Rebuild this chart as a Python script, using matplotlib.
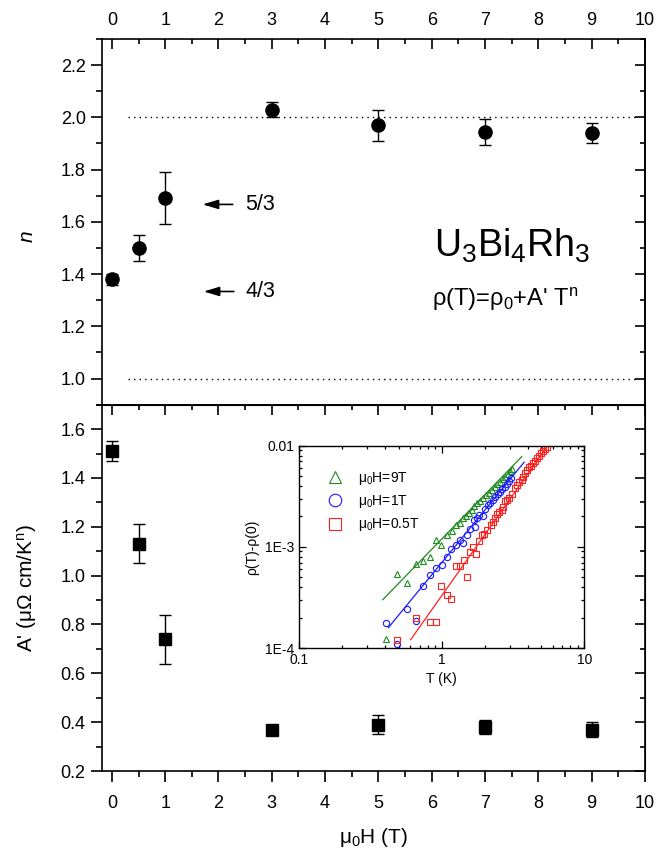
import matplotlib
matplotlib.use('Agg')
import matplotlib.pyplot as plt
from matplotlib.ticker import MultipleLocator, LogLocator, NullFormatter

plt.rcParams['font.family'] = ['Liberation Sans', 'DejaVu Sans']
plt.rcParams['mathtext.default'] = 'regular'

# main panels
field = [0, 0.5, 1, 3, 5, 7, 9]
n_exp = [1.38, 1.50, 1.69, 2.03, 1.97, 1.945, 1.94]
n_err = [0.02, 0.05, 0.10, 0.03, 0.06, 0.05, 0.04]
A_coef = [1.51, 1.13, 0.74, 0.37, 0.39, 0.38, 0.37]
A_err = [0.04, 0.08, 0.10, 0.01, 0.04, 0.03, 0.03]

# inset: rho(T)-rho(0) vs T
T_9T = [0.404, 0.488, 0.570, 0.656, 0.738, 0.822, 0.906, 0.986, 1.08, 1.17, 1.26, 1.34, 1.42, 1.48, 1.55,
        1.62, 1.69, 1.77, 1.85, 1.95, 2.04, 2.14, 2.25, 2.35, 2.45, 2.56, 2.67, 2.79, 2.90, 3.01, 3.10]
R_9T = [1.22e-4, 5.37e-4, 4.44e-4, 6.79e-4, 7.17e-4, 7.91e-4, 1.16e-3, 1.04e-3, 1.32e-3, 1.43e-3, 1.64e-3,
        1.73e-3, 1.91e-3, 2.02e-3, 2.18e-3, 2.34e-3, 2.53e-3, 2.69e-3, 2.85e-3, 3.05e-3, 3.23e-3, 3.43e-3,
        3.64e-3, 3.90e-3, 4.15e-3, 4.37e-3, 4.65e-3, 4.93e-3, 5.25e-3, 5.57e-3, 5.83e-3]
T_1T = [0.404, 0.488, 0.573, 0.659, 0.741, 0.826, 0.910, 0.998, 1.08, 1.16, 1.26, 1.34, 1.42, 1.50, 1.59,
        1.68, 1.71, 1.76, 1.83, 1.94, 2.01, 2.10, 2.18, 2.28, 2.36, 2.47, 2.56, 2.66, 2.76, 2.87, 2.98, 3.05]
R_1T = [1.75e-4, 1.09e-4, 2.43e-4, 1.84e-4, 4.11e-4, 5.28e-4, 6.25e-4, 6.64e-4, 7.91e-4, 9.49e-4, 1.05e-3,
        1.16e-3, 1.10e-3, 1.30e-3, 1.50e-3, 1.84e-3, 1.58e-3, 1.95e-3, 2.07e-3, 2.01e-3, 2.38e-3, 2.59e-3,
        2.73e-3, 2.90e-3, 3.08e-3, 3.30e-3, 3.48e-3, 3.70e-3, 3.93e-3, 4.18e-3, 4.47e-3, 4.75e-3]
T_05T = [0.488, 0.659, 0.822, 0.910, 0.986, 1.08, 1.16, 1.26, 1.34, 1.43, 1.50, 1.58, 1.66, 1.74, 1.82,
         1.90, 1.98, 2.07, 2.20, 2.28, 2.36, 2.43, 2.52, 2.63, 2.70, 2.78, 2.89, 2.98, 3.10, 3.27, 3.36,
         3.50, 3.64, 3.73, 3.85, 3.98, 4.11, 4.25, 4.39, 4.51, 4.63, 4.79, 4.94, 5.11, 5.30, 5.50]
R_05T = [1.21e-4, 1.98e-4, 1.81e-4, 1.81e-4, 4.08e-4, 3.38e-4, 3.03e-4, 6.44e-4, 6.40e-4, 7.38e-4, 5.01e-4,
         8.87e-4, 1.0e-3, 8.53e-4, 1.13e-3, 1.30e-3, 1.34e-3, 1.46e-3, 1.63e-3, 1.78e-3, 1.95e-3, 2.11e-3,
         2.20e-3, 2.34e-3, 2.45e-3, 2.85e-3, 2.90e-3, 3.01e-3, 3.30e-3, 3.79e-3, 4.08e-3, 4.40e-3, 4.57e-3,
         4.93e-3, 5.33e-3, 5.74e-3, 6.11e-3, 6.30e-3, 6.70e-3, 7.10e-3, 7.50e-3, 7.91e-3, 8.41e-3, 8.91e-3,
         9.33e-3, 9.77e-3]
fit_9T_T = [0.385, 3.64]
fit_9T_R = [3.0e-4, 7.8e-3]
fit_1T_T = [0.422, 3.78]
fit_1T_R = [1.59e-4, 6.86e-3]
fit_05T_T = [0.605, 5.58]
fit_05T_R = [1.21e-4, 1.02e-2]

green = '#1e8a1e'
blue = '#1a1aff'
red = '#ff2020'

fig = plt.figure(figsize=(6.67, 8.55), dpi=100)
ax1 = fig.add_axes([0.1525, 0.5267, 0.8145, 0.4277])
ax2 = fig.add_axes([0.1525, 0.0982, 0.8145, 0.4285])

for ax in (ax1, ax2):
    for s in ax.spines.values():
        s.set_linewidth(1.2)
    ax.set_xlim(-0.19, 10)
    ax.xaxis.set_major_locator(MultipleLocator(1))
    ax.xaxis.set_minor_locator(MultipleLocator(0.5))
    ax.tick_params(axis='y', which='both', left=True, right=False, direction='out', labelsize=13, width=1.2)
    ax.tick_params(axis='y', which='major', length=8)
    ax.tick_params(axis='y', which='minor', length=4)

# upper panel: exponent n
ax1.errorbar(field, n_exp, yerr=n_err, fmt='o', color='black', ms=9.5, capsize=4, elinewidth=1, capthick=1)
ax1.plot([0.3, 9.85], [2.0, 2.0], color='black', lw=1, ls=(0, (1, 3)))
ax1.plot([0.3, 9.85], [1.0, 1.0], color='black', lw=1, ls=(0, (1, 3)))
ax1.set_ylim(0.9, 2.3)
ax1.yaxis.set_major_locator(MultipleLocator(0.2))
ax1.yaxis.set_minor_locator(MultipleLocator(0.1))
ax1.yaxis.set_major_formatter(plt.FormatStrFormatter('%.1f'))
ax1.tick_params(axis='x', which='both', top=True, bottom=False, labeltop=True, labelbottom=False,
                direction='in', labelsize=13, width=1.2, pad=7)
ax1.tick_params(axis='x', which='major', length=7)
ax1.tick_params(axis='x', which='minor', length=3.5)
ax1.set_ylabel('n', fontsize=15, fontstyle='italic')
ax1.yaxis.set_label_coords(-0.12, 0.46)

arrow = dict(arrowstyle='-|>,head_length=0.67,head_width=0.2', color='black', lw=1.2, mutation_scale=14)
ax1.annotate('', xy=(1.65, 5 / 3), xytext=(2.32, 5 / 3), arrowprops=arrow)
ax1.annotate('', xy=(1.67, 4 / 3), xytext=(2.34, 4 / 3), arrowprops=arrow)
ax1.text(2.5, 5 / 3, '5/3', fontsize=15.5, va='center', ha='left')
ax1.text(2.5, 4 / 3, '4/3', fontsize=15.5, va='center', ha='left')
ax1.text(7.5, 1.466, 'U$_3$Bi$_4$Rh$_3$', fontsize=27, ha='center', va='baseline')
ax1.text(7.37, 1.276, "ρ(T)=ρ$_0$+A' T$^n$", fontsize=17, ha='center', va='baseline')

sec1 = ax1.secondary_yaxis('right')
sec1.yaxis.set_major_locator(MultipleLocator(0.2))
sec1.yaxis.set_minor_locator(MultipleLocator(0.1))
sec1.tick_params(axis='y', which='both', direction='in', labelright=False, width=1.2)
sec1.tick_params(axis='y', which='major', length=7)
sec1.tick_params(axis='y', which='minor', length=3.5)
sec1.spines['right'].set_linewidth(1.2)

# lower panel: A'
ax2.errorbar(field, A_coef, yerr=A_err, fmt='s', color='black', ms=8, capsize=4, elinewidth=1, capthick=1)
ax2.set_ylim(0.2, 1.7)
ax2.yaxis.set_major_locator(MultipleLocator(0.2))
ax2.yaxis.set_minor_locator(MultipleLocator(0.1))
ax2.yaxis.set_major_formatter(plt.FormatStrFormatter('%.1f'))
ax2.tick_params(axis='x', which='both', top=False, bottom=True, direction='out', labelsize=13, width=1.2, pad=9)
ax2.tick_params(axis='x', which='major', length=8)
ax2.tick_params(axis='x', which='minor', length=4)
ax2.set_xlabel('μ$_0$H (T)', fontsize=15)
ax2.xaxis.set_label_coords(0.5, -0.15)
ax2.set_ylabel("A' (μΩ cm/K$^n$)", fontsize=15)
ax2.yaxis.set_label_coords(-0.115, 0.5)

sec2x = ax2.secondary_xaxis('top')
sec2x.xaxis.set_major_locator(MultipleLocator(1))
sec2x.xaxis.set_minor_locator(MultipleLocator(0.5))
sec2x.tick_params(axis='x', which='both', direction='in', labeltop=False, width=1.2)
sec2x.tick_params(axis='x', which='major', length=7)
sec2x.tick_params(axis='x', which='minor', length=3.5)
sec2y = ax2.secondary_yaxis('right')
sec2y.yaxis.set_major_locator(MultipleLocator(0.2))
sec2y.yaxis.set_minor_locator(MultipleLocator(0.1))
sec2y.tick_params(axis='y', which='both', direction='in', labelright=False, width=1.2)
sec2y.tick_params(axis='y', which='major', length=7)
sec2y.tick_params(axis='y', which='minor', length=3.5)

# inset
ax3 = fig.add_axes([0.4487, 0.2421, 0.4273, 0.2366])
ax3.set_xscale('log')
ax3.set_yscale('log')
ax3.plot(T_9T, R_9T, '^', mfc='none', mec=green, ms=4.5, mew=0.8, label='μ$_0$H=9T')
ax3.plot(T_1T, R_1T, 'o', mfc='none', mec=blue, ms=4.5, mew=0.8, label='μ$_0$H=1T')
ax3.plot(T_05T, R_05T, 's', mfc='none', mec=red, ms=4.2, mew=0.8, label='μ$_0$H=0.5T')
ax3.plot(fit_9T_T, fit_9T_R, color=green, lw=0.9)
ax3.plot(fit_1T_T, fit_1T_R, color=blue, lw=0.9)
ax3.plot(fit_05T_T, fit_05T_R, color=red, lw=0.9)
ax3.set_xlim(0.1, 10)
ax3.set_ylim(1e-4, 1e-2)
ax3.set_xticks([0.1, 1, 10], ['0.1', '1', '10'])
ax3.set_yticks([1e-4, 1e-3, 1e-2], ['1E-4', '1E-3', '0.01'])
ax3.xaxis.set_minor_locator(LogLocator(base=10, subs=range(2, 10)))
ax3.yaxis.set_minor_locator(LogLocator(base=10, subs=range(2, 10)))
ax3.xaxis.set_minor_formatter(NullFormatter())
ax3.yaxis.set_minor_formatter(NullFormatter())
ax3.tick_params(which='both', direction='in', top=True, right=True, labelsize=10, width=0.9)
ax3.tick_params(which='major', length=5)
ax3.tick_params(which='minor', length=2.5)
for s in ax3.spines.values():
    s.set_linewidth(1)
ax3.set_xlabel('T (K)', fontsize=10)
ax3.set_ylabel('ρ(T)-ρ(0)', fontsize=10)
ax3.legend(loc='upper left', bbox_to_anchor=(0.10, 0.88), frameon=False, fontsize=10, markerscale=2,
           handlelength=1.0, handletextpad=1.15, labelspacing=0.45, borderaxespad=0, borderpad=0)

fig.savefig('out.png', dpi=100)
